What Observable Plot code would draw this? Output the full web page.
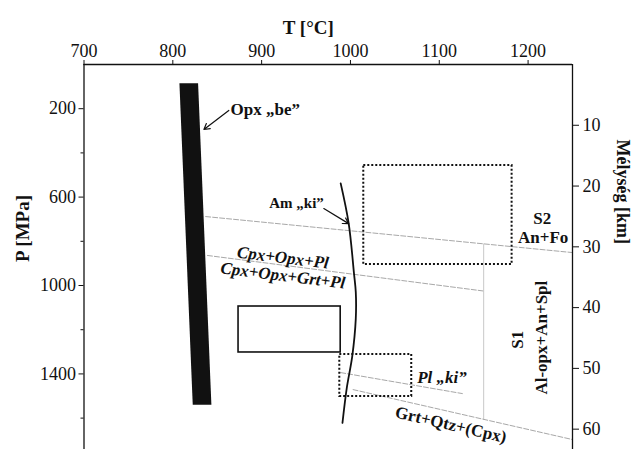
<!DOCTYPE html>
<html><head><meta charset="utf-8">
<script src="https://cdn.jsdelivr.net/npm/d3@7"></script>
<script src="https://cdn.jsdelivr.net/npm/@observablehq/plot@0.6"></script>
<style>html,body{margin:0;padding:0;background:#fff;overflow:hidden}</style>
</head><body><div id="chart"></div>
<script>
// ---- data ----
const tTicks = [700, 800, 900, 1000, 1100, 1200];
const pTicks = [200, 600, 1000, 1400];
const pMinorTicks = [400, 800, 1200, 1600];
const depthTicks = [10, 20, 30, 40, 50, 60];
const mpaPerKm = 27.5;

const opxBar = [
  {p: 87, t1: 808, t2: 829},
  {p: 1542, t1: 823, t2: 844}
];
const amCurve = [
  {t: 989, p: 538}, {t: 998, p: 719}, {t: 1004, p: 946}, {t: 1006, p: 1030},
  {t: 1006, p: 1150}, {t: 1002, p: 1321}, {t: 996, p: 1460}, {t: 991, p: 1622}
];
const reactionAnFo = [{t: 837, p: 688}, {t: 1250, p: 851}];
const reactionGrt = [{t: 839, p: 864}, {t: 1150, p: 1025}];
const reactionVert = [{t: 1150, p: 812}, {t: 1150, p: 1606}];
const reactionPl = [{t: 989, p: 1394}, {t: 1126, p: 1489}];
const reactionQtz = [{t: 1003, p: 1471}, {t: 1250, p: 1697}];

const solidBoxes = [{t1: 874, t2: 989, p1: 1095, p2: 1303}];
const dottedBoxes = [
  {t1: 1015, t2: 1182, p1: 457, p2: 905},
  {t1: 988, t2: 1069, p1: 1312, p2: 1502}
];
const arrows = [
  {t1: 863, p1: 208, t2: 835, p2: 294},
  {t1: 970, p1: 652, t2: 998, p2: 720}
];
const labelsUpright = [
  {text: "Opx \u201Ebe\u201D", t: 865, p: 204, anchor: "start"},
  {text: "Am \u201Eki\u201D", t: 970, p: 629, anchor: "end"},
  {text: "S2", t: 1216, p: 697, anchor: "middle"},
  {text: "An+Fo", t: 1217, p: 783, anchor: "middle"}
];
const labelsItalic = [
  {text: "Cpx+Opx+Pl", t: 924, p: 874, rot: 7},
  {text: "Cpx+Opx+Grt+Pl", t: 924, p: 955, rot: 7},
  {text: "Pl \u201Eki\u201D", t: 1103, p: 1417, rot: 0}
];
const labelsRotated = [
  {text: "S1", t: 1188, p: 1245, rot: -90},
  {text: "Al-opx+An+Spl", t: 1215, p: 1236, rot: -90},
  {text: "Grt+Qtz+(Cpx)", t: 1113, p: 1630, rot: 13}
];
const titleT = "T [\u00B0C]";
const titleP = "P [MPa]";
const titleDepth = "M\u00E9lys\u00E9g [km]";

// ---- chart ----
const ink = "#111";
const grey = "#a8a8a8";
const plain = d => String(d);
const chart = Plot.plot({
  width: 634, height: 449,
  marginTop: 64, marginLeft: 83.5, marginRight: 62, marginBottom: 0,
  x: {domain: [700, 1250]},
  y: {domain: [0, 1742], reverse: true},
  style: {fontFamily: "'Liberation Serif', 'Times New Roman', serif", fontSize: "18px", color: ink, background: "#fff", overflow: "visible"},
  marks: [
    // reaction lines
    Plot.line(reactionAnFo, {x: "t", y: "p", stroke: grey, strokeWidth: 1, strokeDasharray: "5,2"}),
    Plot.line(reactionGrt, {x: "t", y: "p", stroke: grey, strokeWidth: 1, strokeDasharray: "5,2"}),
    Plot.line(reactionVert, {x: "t", y: "p", stroke: "#c8c8c8", strokeWidth: 1}),
    Plot.line(reactionPl, {x: "t", y: "p", stroke: grey, strokeWidth: 1, strokeDasharray: "5,2"}),
    Plot.line(reactionQtz, {x: "t", y: "p", stroke: grey, strokeWidth: 1, strokeDasharray: "5,2"}),
    // opx bar
    Plot.areaX(opxBar, {y: "p", x1: "t1", x2: "t2", fill: "#111", curve: "linear"}),
    // boxes
    Plot.rect(solidBoxes, {x1: "t1", x2: "t2", y1: "p1", y2: "p2", fill: "none", stroke: ink, strokeWidth: 1.6}),
    Plot.rect(dottedBoxes, {x1: "t1", x2: "t2", y1: "p1", y2: "p2", fill: "none", stroke: ink, strokeWidth: 2, strokeDasharray: "2,2"}),
    // Am curve
    Plot.line(amCurve, {x: "t", y: "p", stroke: ink, strokeWidth: 1.8, curve: "catmull-rom"}),
    // arrows
    Plot.arrow(arrows, {x1: "t1", y1: "p1", x2: "t2", y2: "p2", stroke: ink, strokeWidth: 1.2, headLength: 8}),
    // labels
    Plot.text(labelsUpright, {x: "t", y: "p", text: "text", textAnchor: "start", fontWeight: "bold", fontSize: 17, filter: d => d.anchor === "start"}),
    Plot.text(labelsUpright, {x: "t", y: "p", text: "text", textAnchor: "end", fontWeight: "bold", fontSize: 15, filter: d => d.anchor === "end"}),
    Plot.text(labelsUpright, {x: "t", y: "p", text: "text", textAnchor: "middle", fontWeight: "bold", fontSize: 17, filter: d => d.anchor === "middle"}),
    Plot.text(labelsItalic, {x: "t", y: "p", text: "text", rotate: "rot", fontWeight: "bold", fontStyle: "italic", fontSize: 17}),
    Plot.text(labelsRotated, {x: "t", y: "p", text: "text", rotate: "rot", fontWeight: "bold", fontSize: 17}),
    // frame
    Plot.ruleY([0], {stroke: ink, strokeWidth: 1.3}),
    Plot.ruleX([700, 1250], {stroke: ink, strokeWidth: 1.3}),
    // axes
    Plot.axisX(tTicks, {anchor: "top", tickSize: 5, tickPadding: 3, fontSize: 18, label: null, tickFormat: plain}),
    Plot.axisY(pTicks, {anchor: "left", tickSize: 5, tickPadding: 3, fontSize: 18, label: null, tickFormat: plain}),
    Plot.axisY(pMinorTicks, {anchor: "left", tickSize: 3, tickFormat: () => "", label: null}),
    Plot.axisY(depthTicks.map(d => d * mpaPerKm), {anchor: "right", tickSize: 6, tickPadding: 4, fontSize: 18, label: null, tickFormat: d => String(Math.round(d / mpaPerKm))}),
    // axis titles
    Plot.text([titleT], {frameAnchor: "top", dx: -20, dy: -44, fontWeight: "bold", fontSize: 19}),
    Plot.text([titleP], {frameAnchor: "left", dx: -61, dy: 5, rotate: -90, fontWeight: "bold", fontSize: 19}),
    Plot.text([titleDepth], {frameAnchor: "right", dx: 50, dy: -13, rotate: 90, fontWeight: "bold", fontSize: 18})
  ]
});
document.getElementById("chart").append(chart);
</script>
</body></html>
